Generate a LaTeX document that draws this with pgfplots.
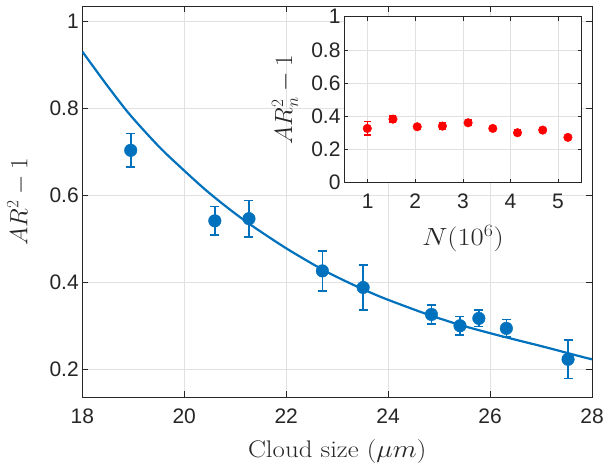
\documentclass[border=0pt]{standalone}
\usepackage{fontspec}
\setsansfont{Liberation Sans}
\usepackage{pgfplots}
\pgfplotsset{compat=1.18}
\definecolor{mblue}{RGB}{0,114,189}
\definecolor{axgray}{RGB}{38,38,38}
\definecolor{gridgray}{RGB}{225,225,225}

\pgfplotsset{
  matlab/.style={
    scale only axis,
    tick align=inside,
    major tick length=6pt,
    tick style={axgray, line width=0.6pt},
    axis line style={axgray, line width=0.7pt},
    grid=major,
    major grid style={gridgray, line width=0.6pt},
    /pgf/number format/assume math mode=true,
    tick label style={font=\fontsize{21}{24}\sffamily, text=axgray},
    xticklabel style={yshift=-8pt},
    label style={font=\fontsize{24}{28}\selectfont, text=axgray},
  }
}

\begin{document}
\begin{tikzpicture}
% main axis
\begin{axis}[matlab,
  at={(0pt,0pt)}, anchor=south west,
  width=509.7pt, height=391.3pt,
  xmin=18, xmax=28, ymin=0.1357, ymax=1.0345,
  xtick={18,20,22,24,26,28},
  ytick={0.2,0.4,0.6,0.8,1},
  yticklabels={0.2,0.4,0.6,0.8,1},
  xlabel={Cloud size ($\mu m$)},
  ylabel={$AR^2-1$},
  xlabel style={at={(axis description cs:0.5,-0.1398)}, anchor=center, xscale=1.12},
  ylabel style={at={(axis description cs:-0.1256,0.5)}, anchor=center},
]
\addplot[mblue, line width=2.2pt, smooth] coordinates {
  (18,0.930) (18.5,0.850) (18.94,0.784) (19.5,0.712) (19.92,0.665)
  (20.4,0.614) (20.83,0.573) (21.29,0.533) (22.0,0.478) (22.73,0.428)
  (23.3,0.395) (23.84,0.367) (24.4,0.342) (24.85,0.323) (25.41,0.302)
  (26.0,0.283) (26.5,0.268) (27.08,0.251) (27.76,0.230) (28,0.223)
};
\addplot[only marks, mark=*, mark size=6.3pt, mblue,
  error bars/.cd, y dir=both, y explicit,
  error bar style={line width=1.6pt, mblue},
  error mark options={rotate=90, mark size=4.5pt, line width=1.6pt, mblue}]
  coordinates {
  (18.95,0.703) +- (0,0.039)
  (20.60,0.541) +- (0,0.033)
  (21.27,0.546) +- (0,0.042)
  (22.71,0.426) +- (0,0.046)
  (23.51,0.388) +- (0,0.052)
  (24.85,0.326) +- (0,0.022)
  (25.41,0.300) +- (0,0.021)
  (25.78,0.317) +- (0,0.019)
  (26.32,0.294) +- (0,0.020)
  (27.53,0.223) +- (0,0.044)
};
\end{axis}

% inset
\begin{axis}[matlab,
  at={(261.7pt,214.6pt)}, anchor=south west,
  width=237.7pt, height=166pt,
  axis background/.style={fill=white},
  major tick length=4pt,
  xmin=0.5, xmax=5.5, ymin=0, ymax=1,
  xtick={1,2,3,4,5},
  ytick={0,0.2,0.4,0.6,0.8,1},
  yticklabels={0,0.2,0.4,0.6,0.8,1},
  xlabel={$N(10^6)$},
  ylabel={$AR_n^2-1$},
  xlabel style={at={(axis description cs:0.5,-0.337)}, anchor=center, xscale=1.15},
  ylabel style={at={(axis description cs:-0.248,0.5)}, anchor=center},
]
\addplot[only marks, mark=*, mark size=4.3pt, red,
  error bars/.cd, y dir=both, y explicit,
  error bar style={line width=1.4pt, red},
  error mark options={rotate=90, mark size=3.5pt, line width=1.4pt, red}]
  coordinates {
  (0.99,0.327) +- (0,0.040)
  (1.53,0.383) +- (0,0.018)
  (2.04,0.337) +- (0,0.015)
  (2.57,0.341) +- (0,0.020)
  (3.11,0.361) +- (0,0.016)
  (3.63,0.327) +- (0,0.010)
  (4.15,0.301) +- (0,0.016)
  (4.68,0.317) +- (0,0.012)
  (5.21,0.273) +- (0,0.006)
};
\end{axis}
\pgfresetboundingbox
\path[use as bounding box] (-82.3pt,-66.7pt) rectangle (522.7pt,397.3pt);
\end{tikzpicture}
\end{document}
